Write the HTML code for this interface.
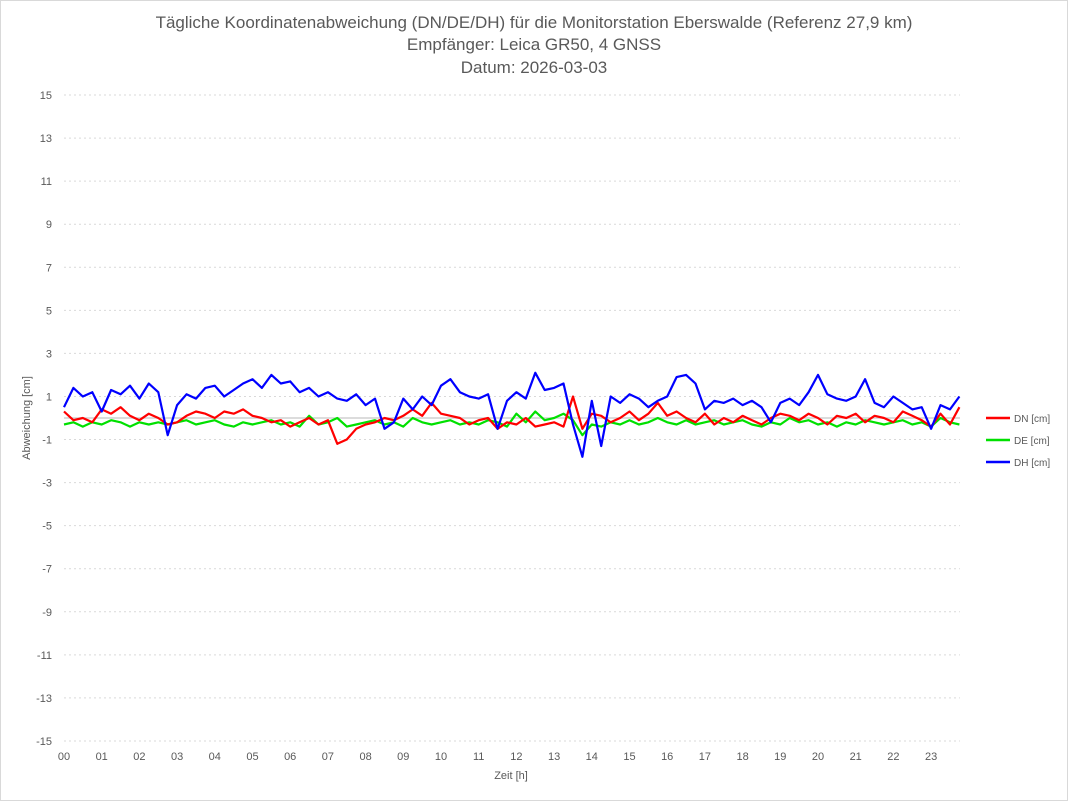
<!DOCTYPE html>
<html><head><meta charset="utf-8">
<style>
body{margin:0;background:#fff;font-family:"Liberation Sans",sans-serif;}
#wrap{position:relative;width:1068px;height:801px;}
svg text{font-family:"Liberation Sans",sans-serif;}
</style></head>
<body>
<div id="wrap">
<svg id="chart" width="1068" height="801">
<rect x="0.5" y="0.5" width="1067" height="800" fill="#fff" stroke="#d9d9d9"/>
<text x="534" y="28" text-anchor="middle" font-size="17" fill="#595959">Tägliche Koordinatenabweichung (DN/DE/DH) für die Monitorstation Eberswalde (Referenz 27,9 km)</text>
<text x="534" y="50" text-anchor="middle" font-size="17" fill="#595959">Empfänger: Leica GR50, 4 GNSS</text>
<text x="534" y="73" text-anchor="middle" font-size="17" fill="#595959">Datum: 2026-03-03</text>
<g id="grid"></g>
<g id="series"></g>
<text x="30" y="418" transform="rotate(-90 30 418)" text-anchor="middle" font-size="11" fill="#595959">Abweichung [cm]</text>
<text x="511" y="779" text-anchor="middle" font-size="11" fill="#595959">Zeit [h]</text>
<g>
<line x1="986" y1="418" x2="1010" y2="418" stroke="#ff0000" stroke-width="2.5"/>
<text x="1014" y="422" font-size="10" fill="#595959">DN [cm]</text>
<line x1="986" y1="440" x2="1010" y2="440" stroke="#00e000" stroke-width="2.5"/>
<text x="1014" y="444" font-size="10" fill="#595959">DE [cm]</text>
<line x1="986" y1="462" x2="1010" y2="462" stroke="#0000ff" stroke-width="2.5"/>
<text x="1014" y="466" font-size="10" fill="#595959">DH [cm]</text>
</g>
</svg>
</div>
<script>
const yTicks=[15,13,11,9,7,5,3,1,-1,-3,-5,-7,-9,-11,-13,-15];
const xTickLabels=["00","01","02","03","04","05","06","07","08","09","10","11","12","13","14","15","16","17","18","19","20","21","22","23"];
const stepHours=0.25;
const dhValues=[0.5,1.4,1.0,1.2,0.3,1.3,1.1,1.5,0.9,1.6,1.2,-0.8,0.6,1.1,0.9,1.4,1.5,1.0,1.3,1.6,1.8,1.4,2.0,1.6,1.7,1.2,1.4,1.0,1.2,0.9,0.8,1.1,0.6,0.9,-0.5,-0.2,0.9,0.4,1.0,0.6,1.5,1.8,1.2,1.0,0.9,1.1,-0.5,0.8,1.2,0.9,2.1,1.3,1.4,1.6,-0.3,-1.8,0.8,-1.3,1.0,0.7,1.1,0.9,0.5,0.8,1.0,1.9,2.0,1.6,0.4,0.8,0.7,0.9,0.6,0.8,0.5,-0.2,0.7,0.9,0.6,1.2,2.0,1.1,0.9,0.8,1.0,1.8,0.7,0.5,1.0,0.7,0.4,0.5,-0.5,0.6,0.4,1.0];
const dnValues=[0.3,-0.1,0.0,-0.2,0.4,0.2,0.5,0.1,-0.1,0.2,0.0,-0.3,-0.2,0.1,0.3,0.2,0.0,0.3,0.2,0.4,0.1,0.0,-0.2,-0.1,-0.4,-0.2,0.0,-0.3,-0.1,-1.2,-1.0,-0.5,-0.3,-0.2,0.0,-0.1,0.1,0.4,0.1,0.7,0.2,0.1,0.0,-0.3,-0.1,0.0,-0.5,-0.2,-0.3,0.0,-0.4,-0.3,-0.2,-0.4,1.0,-0.5,0.2,0.1,-0.2,0.0,0.3,-0.1,0.2,0.7,0.1,0.3,0.0,-0.2,0.2,-0.3,0.0,-0.2,0.1,-0.1,-0.3,0.0,0.2,0.1,-0.1,0.2,0.0,-0.3,0.1,0.0,0.2,-0.2,0.1,0.0,-0.2,0.3,0.1,-0.1,-0.4,0.2,-0.3,0.5];
const deValues=[-0.3,-0.2,-0.4,-0.2,-0.3,-0.1,-0.2,-0.4,-0.2,-0.3,-0.2,-0.3,-0.2,-0.1,-0.3,-0.2,-0.1,-0.3,-0.4,-0.2,-0.3,-0.2,-0.1,-0.3,-0.2,-0.4,0.1,-0.3,-0.2,0.0,-0.4,-0.3,-0.2,-0.1,-0.3,-0.2,-0.4,0.0,-0.2,-0.3,-0.2,-0.1,-0.3,-0.2,-0.3,-0.1,-0.2,-0.4,0.2,-0.2,0.3,-0.1,0.0,0.2,-0.1,-0.8,-0.3,-0.4,-0.2,-0.3,-0.1,-0.3,-0.2,0.0,-0.2,-0.3,-0.1,-0.3,-0.2,-0.1,-0.3,-0.2,-0.1,-0.3,-0.4,-0.2,-0.3,0.0,-0.2,-0.1,-0.3,-0.2,-0.4,-0.2,-0.3,-0.1,-0.2,-0.3,-0.2,-0.1,-0.3,-0.2,-0.4,0.0,-0.2,-0.3];

const X0=64,XSTEP=37.7,YTOP=95,YBOT=741,YMAX=15,YMIN=-15;
function xs(h){return X0+h*XSTEP;}
function ys(v){return YTOP+(YMAX-v)/(YMAX-YMIN)*(YBOT-YTOP);}
const NS="http://www.w3.org/2000/svg";
const grid=document.getElementById('grid');
const series=document.getElementById('series');
function mk(tag,attrs,parent){const e=document.createElementNS(NS,tag);for(const k in attrs)e.setAttribute(k,attrs[k]);parent.appendChild(e);return e;}
yTicks.forEach(v=>{
  const y=ys(v);
  const l=mk('line',{x1:64,x2:960,y1:y,y2:y,stroke:'#d9d9d9','stroke-dasharray':'2,3'},grid);
  
  
  const t=mk('text',{x:52,y:y+4,'text-anchor':'end','font-size':'11',fill:'#595959'},grid);
  t.textContent=v;
  
  
});
const z=mk('line',{x1:64,x2:960,y1:ys(0),y2:ys(0),stroke:'#d0d0d0','stroke-width':1.5},grid);


xTickLabels.forEach((lab,i)=>{
  const t=mk('text',{x:xs(i),y:760,'text-anchor':'middle','font-size':'11',fill:'#595959'},grid);
  t.textContent=lab;
  
  
});
function draw(vals,color,name){
  const pts=vals.map((v,i)=>xs(i*stepHours).toFixed(1)+','+ys(v).toFixed(1)).join(' ');
  const p=mk('polyline',{points:pts,fill:'none',stroke:color,'stroke-width':2.2,'stroke-linejoin':'round'},series);
  
  
}
draw(deValues,'#00e000','de-line');
draw(dnValues,'#ff0000','dn-line');
draw(dhValues,'#0000ff','dh-line');
</script>
</body></html>
